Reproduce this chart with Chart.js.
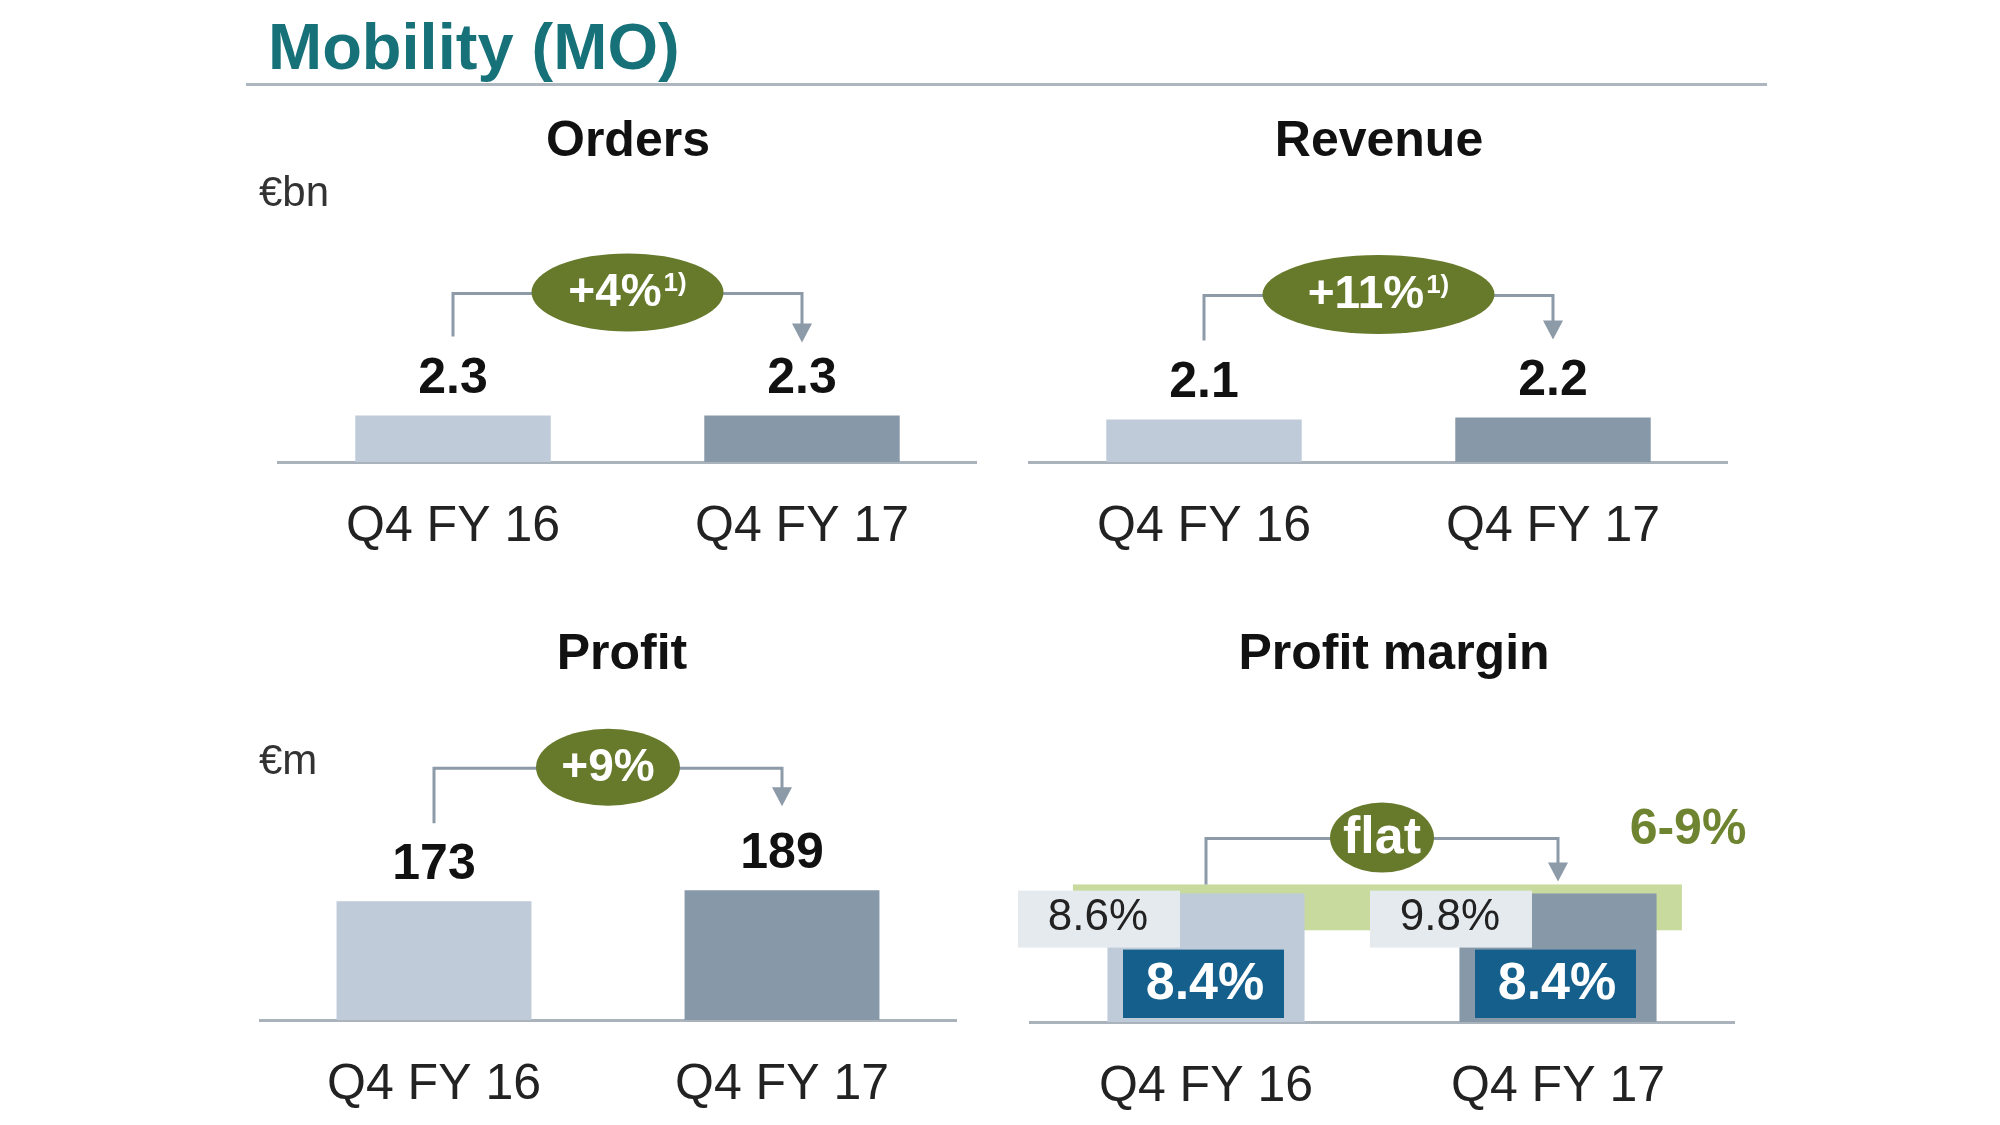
<!DOCTYPE html>
<html>
<head>
<meta charset="utf-8">
<script src="https://cdn.jsdelivr.net/npm/chart.js@4.4.1/dist/chart.umd.min.js"></script>
<style>
  body { margin: 0; background: #fff; width: 2000px; height: 1125px; position: relative; overflow: hidden; font-family: "Liberation Sans", Arial, sans-serif; }
  #title { position: absolute; left: 268px; top: 14px; font-size: 65px; line-height: 65px; font-weight: bold; color: #167179; white-space: nowrap; }
  #rule { position: absolute; left: 246px; top: 83px; width: 1521px; height: 3px; background: #aeb7c0; }
  canvas { position: absolute; }
</style>
</head>
<body>
<div id="title">Mobility (MO)</div>
<div id="rule"></div>
<canvas id="orders" width="770" height="509" style="left:240px;top:100px"></canvas>
<canvas id="revenue" width="770" height="509" style="left:1000px;top:100px"></canvas>
<canvas id="profit" width="770" height="602" style="left:240px;top:560px"></canvas>
<canvas id="margin" width="770" height="602" style="left:1000px;top:560px"></canvas>
<script>
// data
const categories = ['Q4 FY 16', 'Q4 FY 17'];
const ordersValues = [2.3, 2.3];      // €bn
const revenueValues = [2.1, 2.2];     // €bn
const profitValues = [173, 189];      // €m
const marginValues = [8.4, 8.4];      // %
const marginAltValues = [8.6, 9.8];   // % (grey boxes)
const marginTarget = [6, 9];          // target corridor, %
const ordersChange = ['+4%', '1)'];
const revenueChange = ['+11%', '1)'];
const profitChange = ['+9%', ''];
const marginChange = ['flat', ''];

const FONT = '"Liberation Sans", Arial, sans-serif';
const barColors = ['#bfcbd8', '#8798a8'];

function drawPill(ctx, cx, cy, w, h, main, sup, size) {
  ctx.fillStyle = '#677a2c';
  ctx.beginPath();
  ctx.ellipse(cx, cy, w / 2, h / 2, 0, 0, Math.PI * 2);
  ctx.fill();
  ctx.font = 'bold ' + size + 'px ' + FONT;
  const mw = ctx.measureText(main).width;
  let sw = 0;
  const supFont = 'bold ' + Math.round(size * 0.56) + 'px ' + FONT;
  if (sup) { ctx.font = supFont; sw = ctx.measureText(sup).width + 2; }
  const x0 = cx - (mw + sw) / 2;
  ctx.fillStyle = '#fff';
  ctx.textAlign = 'left';
  ctx.textBaseline = 'middle';
  ctx.font = 'bold ' + size + 'px ' + FONT;
  ctx.fillText(main, x0, cy + 1);
  if (sup) { ctx.font = supFont; ctx.fillText(sup, x0 + mw + 2, cy - 9); }
}

const panelPlugin = {
  id: 'panel',
  beforeDatasetsDraw(chart, args, o) {
    if (!o.band) return;
    const ctx = chart.ctx, x = chart.scales.x, y = chart.scales.y;
    const x0 = x.getPixelForValue(0), x1 = x.getPixelForValue(1), cw = x1 - x0;
    const top = y.getPixelForValue(o.band[1]), bottom = y.getPixelForValue(o.band[0]);
    ctx.save();
    ctx.fillStyle = '#c9da9e';
    ctx.fillRect(x0 - 0.378 * cw, top, (x1 + 0.352 * cw) - (x0 - 0.378 * cw), bottom - top);
    ctx.restore();
  },
  afterDatasetsDraw(chart, args, o) {
    const ctx = chart.ctx;
    const bars = chart.getDatasetMeta(0).data;
    const values = chart.data.datasets[0].data;
    ctx.save();

    // panel title and unit
    ctx.fillStyle = '#111';
    ctx.textAlign = 'center';
    ctx.textBaseline = 'middle';
    ctx.font = 'bold 50px ' + FONT;
    ctx.fillText(o.title, o.titleX, o.titleY);
    if (o.unit) {
      ctx.font = '42px ' + FONT;
      ctx.fillStyle = '#333';
      ctx.textAlign = 'left';
      ctx.fillText(o.unit, o.unitX, o.unitY);
    }

    // value labels above bars
    if (o.valueLabels) {
      ctx.font = 'bold 50px ' + FONT;
      ctx.fillStyle = '#111';
      ctx.textAlign = 'center';
      bars.forEach((b, i) => ctx.fillText(o.format(values[i]), b.x, b.y - 36));
    }

    // margin boxes
    if (o.alt) {
      bars.forEach((b, i) => {
        ctx.fillStyle = '#e5eaef';
        ctx.fillRect(b.x - 188, b.y - 3, 162, 57);
        ctx.fillStyle = '#222';
        ctx.font = '44px ' + FONT;
        ctx.textAlign = 'center';
        ctx.fillText(o.alt[i].toFixed(1) + '%', b.x - 108, b.y + 24);
        ctx.fillStyle = '#155f8c';
        const bt = b.y + 56, bb = b.base - 4;
        ctx.fillRect(b.x - 83, bt, 161, bb - bt);
        ctx.fillStyle = '#fff';
        ctx.font = 'bold 52px ' + FONT;
        ctx.fillText(values[i].toFixed(1) + '%', b.x - 1, (bt + bb) / 2 + 1);
      });
      const y = chart.scales.y;
      ctx.fillStyle = '#6f8430';
      ctx.font = 'bold 50px ' + FONT;
      ctx.fillText(o.band[0] + '-' + o.band[1] + '%', bars[1].x + 130, y.getPixelForValue(o.band[1]) - 54);
    }

    // change connector
    const c = o.conn;
    const lineY = Math.min(bars[0].y, bars[1].y) - c.line;
    const tipY = bars[1].y - c.arrow;
    ctx.strokeStyle = '#8d9aa8';
    ctx.lineWidth = 3;
    ctx.beginPath();
    ctx.moveTo(bars[0].x, bars[0].y - c.left);
    ctx.lineTo(bars[0].x, lineY);
    ctx.lineTo(bars[1].x, lineY);
    ctx.lineTo(bars[1].x, tipY - 18);
    ctx.stroke();
    ctx.fillStyle = '#8d9aa8';
    ctx.beginPath();
    ctx.moveTo(bars[1].x - 10, tipY - 19);
    ctx.lineTo(bars[1].x + 10, tipY - 19);
    ctx.lineTo(bars[1].x, tipY);
    ctx.closePath();
    ctx.fill();
    drawPill(ctx, (bars[0].x + bars[1].x) / 2, lineY - 1, c.w, c.h, o.change[0], o.change[1], c.size);

    ctx.restore();
  }
};

function makePanel(id, values, max, pad, panel) {
  new Chart(document.getElementById(id), {
    type: 'bar',
    data: {
      labels: categories,
      datasets: [{
        data: values,
        backgroundColor: barColors,
        barPercentage: 0.56,
        categoryPercentage: 1
      }]
    },
    options: {
      responsive: false,
      animation: false,
      layout: { padding: pad },
      plugins: { legend: { display: false }, tooltip: { enabled: false }, panel: panel },
      scales: {
        x: {
          grid: { display: false, drawTicks: false },
          border: { display: true, color: '#aab3bc', width: 3 },
          ticks: { font: { family: FONT, size: 50 }, color: '#222', padding: 35 }
        },
        y: { display: false, min: 0, max: max }
      }
    },
    plugins: [panelPlugin]
  });
}

makePanel('orders', ordersValues, 15, { left: 38.5, right: 33.5, top: 58, bottom: 17 }, {
  title: 'Orders', titleX: 388, titleY: 42, unit: '€bn', unitX: 19, unitY: 94,
  valueLabels: true, format: v => v.toFixed(1), change: ordersChange,
  conn: { line: 122, left: 79, arrow: 73, w: 192, h: 78, size: 46 }
});
makePanel('revenue', revenueValues, 15, { left: 29.5, right: 42.5, top: 58, bottom: 17 }, {
  title: 'Revenue', titleX: 379, titleY: 42,
  valueLabels: true, format: v => v.toFixed(1), change: revenueChange,
  conn: { line: 122, left: 79, arrow: 78, w: 232, h: 79, size: 46 }
});
makePanel('profit', profitValues, 600, { left: 20, right: 54, top: 48, bottom: 12 }, {
  title: 'Profit', titleX: 382, titleY: 95, unit: '€m', unitX: 19, unitY: 202,
  valueLabels: true, format: v => String(v), change: profitChange,
  conn: { line: 122, left: 78, arrow: 84, w: 144, h: 77, size: 46 }
});
makePanel('margin', marginValues, 28, { left: 30, right: 36, top: 34, bottom: 10 }, {
  title: 'Profit margin', titleX: 394, titleY: 95,
  valueLabels: false, change: marginChange, alt: marginAltValues, band: marginTarget,
  conn: { line: 55, left: 9, arrow: 12, w: 104, h: 70, size: 52 }
});
</script>
</body>
</html>
